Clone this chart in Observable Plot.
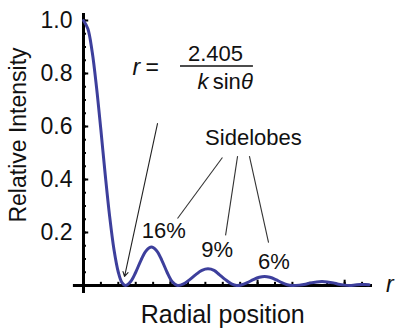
<!DOCTYPE html>
<html>
<head>
<meta charset="utf-8">
<script src="https://cdn.jsdelivr.net/npm/d3@7"></script>
<script src="https://cdn.jsdelivr.net/npm/@observablehq/plot@0.6"></script>
<style>
  html, body { margin: 0; padding: 0; background: #fff; }
</style>
</head>
<body>
<div id="chart"></div>
<script>
// Radial position (arbitrary units) and relative intensity
const radius = [0, 0.25, 0.5, 0.75, 1.0, 1.25, 1.5, 1.75, 2.0, 2.2, 2.4,
  2.7, 3.0, 3.3, 3.6, 3.9, 4.2, 4.5, 4.8, 5.1, 5.4,
  5.75, 6.1, 6.45, 6.8, 7.15, 7.5, 7.8, 8.15, 8.5, 8.8,
  9.1, 9.45, 9.75, 10.1, 10.4, 10.7, 11.05, 11.35, 11.7, 12.0,
  12.4, 12.75, 13.05, 13.4, 13.7, 14.0, 14.35, 14.65, 15.0, 15.3,
  15.6, 15.9, 16.2, 16.4];
const intensity = [1, 0.969, 0.881, 0.747, 0.586, 0.417, 0.262, 0.136, 0.050, 0.012, 0,
  0.014, 0.050, 0.095, 0.131, 0.145, 0.131, 0.095, 0.050, 0.014, 0,
  0.006, 0.022, 0.041, 0.057, 0.063, 0.057, 0.041, 0.022, 0.006, 0,
  0.003, 0.012, 0.022, 0.031, 0.034, 0.031, 0.022, 0.012, 0.003, 0,
  0.0014, 0.005, 0.010, 0.0136, 0.015, 0.0136, 0.010, 0.005, 0.0014, 0,
  0.002, 0.004, 0.004, 0.003];

const yTickLabels = [0.2, 0.4, 0.6, 0.8, 1.0];
const yMinorTicks = d3.range(0.05, 1.0001, 0.05);
const xMinorTicks = d3.range(1, 17, 1);
const xMajorTicks = [5, 10, 15];

const sidelobeLabels = ["16%", "9%", "6%"];
const sidelobeX = [4.61, 7.68, 10.93];
const sidelobeY = [0.204, 0.136, 0.088];

const curve = radius.map((r, i) => ({r, v: intensity[i]}));
const lobes = sidelobeLabels.map((t, i) => ({t, x: sidelobeX[i], y: sidelobeY[i]}));

// leader lines from "Sidelobes" to each label
const leaders = [
  {x1: 7.98, y1: 0.483, x2: 5.40, y2: 0.253},
  {x1: 8.85, y1: 0.488, x2: 8.16, y2: 0.189},
  {x1: 9.53, y1: 0.488, x2: 10.63, y2: 0.162}
];

const FONT = "'Liberation Sans', Arial, Helvetica, sans-serif";
const BLUE = "#3d3f9c";

const chart = Plot.plot({
  width: 397,
  height: 328,
  marginLeft: 83,
  marginRight: 25,
  marginTop: 20,
  marginBottom: 43,
  x: {domain: [0, 16.6], axis: null},
  y: {domain: [0, 1], axis: null},
  style: {fontFamily: FONT, background: "#fff", overflow: "visible"},
  marks: [
    // axes lines
    Plot.ruleX([0], {y1: -0.03, y2: 1.026, stroke: "#000", strokeWidth: 3, clip: false}),
    Plot.ruleY([0], {x1: -0.58, x2: 16.6, stroke: "#000", strokeWidth: 3, clip: false}),
    // y ticks (inside)
    Plot.ruleY(yMinorTicks, {x1: 0, x2: 0.17, stroke: "#000", strokeWidth: 2}),
    Plot.ruleY(yTickLabels, {x1: 0, x2: 0.3, stroke: "#000", strokeWidth: 2}),
    // x ticks (inside)
    Plot.ruleX(xMinorTicks, {y1: 0, y2: 0.012, stroke: "#000", strokeWidth: 2}),
    Plot.ruleX(xMajorTicks, {y1: 0, y2: 0.02, stroke: "#000", strokeWidth: 2}),
    // y tick labels
    Plot.text(yTickLabels, {x: 0, y: d => d, text: d => d.toFixed(1), textAnchor: "end", dx: -11, fontSize: 23, fill: "#111"}),
    // axis titles
    Plot.text(["Relative Intensity"], {x: -3.74, y: 0.568, rotate: -90, fontSize: 23, fill: "#111", clip: false}),
    Plot.text(["Radial position"], {x: 8.0, y: -0.113, fontSize: 25, fill: "#111", clip: false}),
    Plot.text(["r"], {x: 17.6, y: 0.005, fontSize: 23, fontStyle: "italic", fill: "#111", clip: false}),
    // curve
    Plot.line(curve, {x: "r", y: "v", curve: "catmull-rom", stroke: BLUE, strokeWidth: 3}),
    // formula annotation
    Plot.text(["r"], {x: 2.82, y: 0.821, fontSize: 23, fontStyle: "italic", textAnchor: "start", fill: "#111"}),
    Plot.text(["="], {x: 3.95, y: 0.823, fontSize: 23, fill: "#111"}),
    Plot.text(["2.405"], {x: 7.58, y: 0.875, fontSize: 22, fill: "#111"}),
    Plot.ruleY([0.828], {x1: 5.57, x2: 9.76, stroke: "#111", strokeWidth: 1.5}),
    Plot.text(["k"], {x: 6.55, y: 0.768, fontSize: 22, fontStyle: "italic", textAnchor: "start", fill: "#111"}),
    Plot.text(["sin"], {x: 7.42, y: 0.768, fontSize: 22, textAnchor: "start", fill: "#111"}),
    Plot.text(["θ"], {x: 9.05, y: 0.768, fontSize: 22, fontStyle: "italic", textAnchor: "start", fill: "#111"}),
    Plot.arrow([{x1: 4.25, y1: 0.611, x2: 2.36, y2: 0.034}], {x1: "x1", y1: "y1", x2: "x2", y2: "y2", stroke: "#222", strokeWidth: 1.1, headLength: 7}),
    // sidelobes annotation
    Plot.text(["Sidelobes"], {x: 9.76, y: 0.558, fontSize: 22, fill: "#111"}),
    Plot.link(leaders, {x1: "x1", y1: "y1", x2: "x2", y2: "y2", stroke: "#333", strokeWidth: 1.1}),
    Plot.text(lobes, {x: "x", y: "y", text: "t", fontSize: 22, fill: "#111"})
  ]
});
document.getElementById("chart").appendChild(chart);
</script>
</body>
</html>
